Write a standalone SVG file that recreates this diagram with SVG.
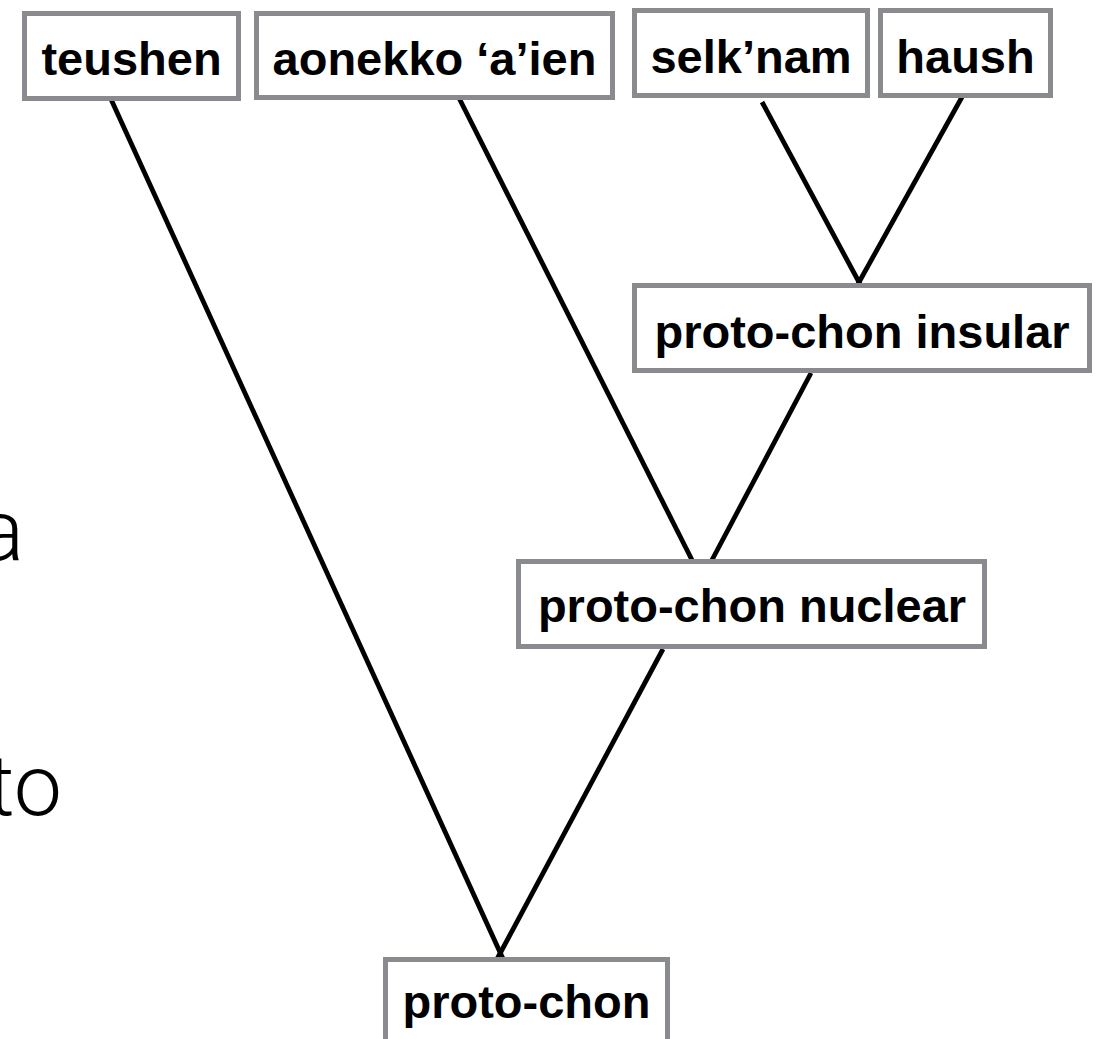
<svg xmlns="http://www.w3.org/2000/svg" width="1102" height="1039" viewBox="0 0 1102 1039">
<style>
.box{fill:#fff;stroke:#898b8e;stroke-width:5}
.lbl{font-family:"Liberation Sans",Arial,sans-serif;font-weight:bold;font-size:47px;fill:#000;text-anchor:middle}
.edge{stroke:#000;stroke-width:4.8;fill:none;stroke-linecap:butt}
.bg{font-family:Roboto,"Liberation Sans",sans-serif;font-weight:300;font-size:86px;fill:#000}
</style>
<rect width="1102" height="1039" fill="#fff"/>
<g id="background-text">
<text class="bg" x="24" y="560" text-anchor="end">a</text>
<text class="bg" x="62" y="815" text-anchor="end">to</text>
</g>
<g id="connectors">
<line class="edge" x1="110" y1="97" x2="504" y2="961"/>
<line class="edge" x1="663" y1="649" x2="496" y2="961"/>
<line class="edge" x1="458" y1="96" x2="692" y2="560"/>
<line class="edge" x1="811" y1="373" x2="712" y2="560"/>
<line class="edge" x1="762" y1="102" x2="860" y2="284"/>
<line class="edge" x1="962" y1="97" x2="858" y2="284"/>
</g>
<g id="teushen"><rect class="box" x="24.5" y="13.5" width="214" height="85"/><text class="lbl" x="131.5" y="75">teushen</text></g>
<g id="aonekko"><rect class="box" x="256.5" y="13.5" width="356" height="84"/><text class="lbl" x="434.5" y="75">aonekko ‘a’ien</text></g>
<g id="selknam"><rect class="box" x="634.5" y="10.5" width="233" height="85"/><text class="lbl" x="751" y="73">selk’nam</text></g>
<g id="haush"><rect class="box" x="880.5" y="10.5" width="170" height="85"/><text class="lbl" x="965.5" y="73">haush</text></g>
<g id="proto-chon-insular"><rect class="box" x="634.5" y="285.5" width="455" height="85"/><text class="lbl" x="862" y="348">proto-chon insular</text></g>
<g id="proto-chon-nuclear"><rect class="box" x="518.5" y="561.5" width="466" height="85"/><text class="lbl" x="752" y="622">proto-chon nuclear</text></g>
<g id="proto-chon"><rect class="box" x="385.5" y="959.5" width="282" height="85"/><text class="lbl" x="526.5" y="1018">proto-chon</text></g>
</svg>
